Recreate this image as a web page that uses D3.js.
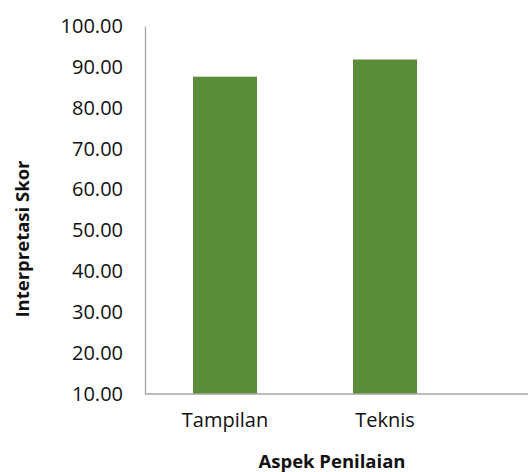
<!DOCTYPE html>
<html><head><meta charset="utf-8">
<script src="https://cdn.jsdelivr.net/npm/d3@7"></script>
<style>body{margin:0;background:#fff}svg{display:block}text{font-family:"Open Sans",sans-serif}</style>
</head><body>
<svg id="c" width="528" height="472"></svg>
<script>
const categories = ["Tampilan", "Teknis"];
const values = [87.6, 91.8];
const yTicks = [10, 20, 30, 40, 50, 60, 70, 80, 90, 100];

(function () {
const svg = d3.select("#c");
const mLeft = 145, mRight = 465, mTop = 26, mBottom = 394;
const x = d3.scaleBand().domain(categories).range([mLeft, mRight]).paddingInner(0.6).paddingOuter(0.3);
const y = d3.scaleLinear().domain([10, 100]).range([mBottom, mTop]);

svg.selectAll("rect.bar").data(categories).enter().append("rect")
  .attr("class", "bar")
  .attr("x", d => x(d))
  .attr("width", x.bandwidth())
  .attr("y", (d, i) => y(values[i]))
  .attr("height", (d, i) => y(10) - y(values[i]))
  .attr("fill", "#5b8c3a");

const ya = svg.append("g").attr("transform", `translate(${mLeft},0)`)
  .call(d3.axisLeft(y).tickValues(yTicks).tickFormat(d3.format(".2f")).tickSize(0).tickPadding(22));
ya.select(".domain").attr("stroke", "#a6a6a6").attr("stroke-width", 1.3);
ya.selectAll("text").attr("font-size", 20).attr("fill", "#111").attr("font-family", "Open Sans");

const xa = svg.append("g").attr("transform", `translate(0,${mBottom})`)
  .call(d3.axisBottom(x).tickSize(0).tickPadding(19));
xa.select(".domain").remove();
xa.selectAll("text").attr("font-size", 20).attr("fill", "#111").attr("font-family", "Open Sans");
svg.append("line").attr("x1", mLeft).attr("x2", 528).attr("y1", mBottom).attr("y2", mBottom)
  .attr("stroke", "#a6a6a6").attr("stroke-width", 1.3);

svg.append("text").attr("x", 332).attr("y", 468).attr("text-anchor", "middle")
  .attr("font-size", 18.5).attr("font-weight", "bold").attr("fill", "#111").text("Aspek Penilaian");
svg.append("text").attr("transform", "translate(29,239) rotate(-90)").attr("text-anchor", "middle")
  .attr("font-size", 18.5).attr("font-weight", "bold").attr("fill", "#111").text("Interpretasi Skor");
})();
</script>
</body></html>
